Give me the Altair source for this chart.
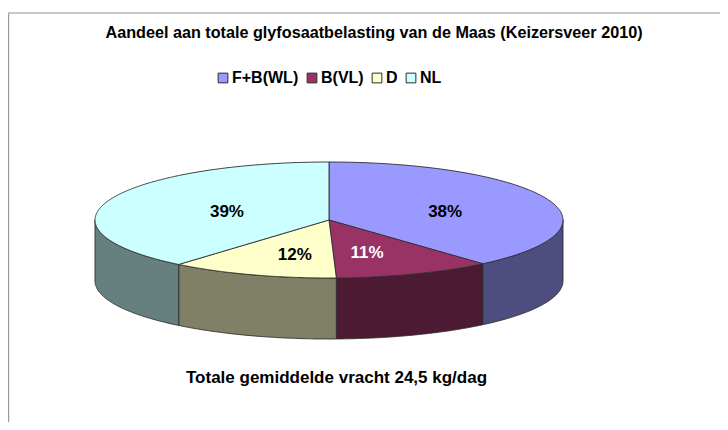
import numpy as np
import pandas as pd
import altair as alt

# --- values ---
categories = ["F+B(WL)", "B(VL)", "D", "NL"]
shares = [38.6, 10.9, 11.6, 38.9]
labels = ["38%", "11%", "12%", "39%"]
colors = ["#9999FF", "#993366", "#FFFFCC", "#CCFFFF"]
wall_colors = ["#4D4D80", "#4D1A33", "#808066", "#668080"]
label_colors = ["black", "white", "black", "black"]
label_rx = [0.53, 0.445, 0.446, 0.464]
label_ry = [0.44, 0.593, 0.62, 0.45]

# --- pie geometry (page pixels) ---
CX, CY, RX, RY, DEPTH = 329.0, 220.0, 234.0, 58.0, 61.0
PAGE_X0, PAGE_X1, PAGE_Y0, PAGE_Y1 = 8, 720, 48, 422
OUTLINE = "#2b2b2b"
FONT = "Liberation Sans"


def ex(t):
    return CX + RX * np.sin(t)


def ey(t):
    return CY - RY * np.cos(t)


def sweep(a0, a1, n=160):
    return np.radians(np.linspace(a0, a1, n))


def sector_table(a0, a1):
    t = sweep(a0, a1)
    px = np.round(np.r_[CX, ex(t), CX], 3)
    py = np.round(np.r_[CY, ey(t), CY], 3)
    rows = []
    for x in np.unique(px):
        ys = []
        for i in range(len(px) - 1):
            x0, x1, y0, y1 = px[i], px[i + 1], py[i], py[i + 1]
            if min(x0, x1) <= x <= max(x0, x1):
                if x0 == x1:
                    ys += [y0, y1]
                else:
                    ys.append(y0 + (y1 - y0) * (x - x0) / (x1 - x0))
        rows.append({"x": float(x), "top": min(ys), "bottom": max(ys)})
    return rows


x_scale = alt.Scale(domain=[PAGE_X0, PAGE_X1], range=[0, PAGE_X1 - PAGE_X0])
y_scale = alt.Scale(domain=[PAGE_Y0, PAGE_Y1], range=[0, PAGE_Y1 - PAGE_Y0])
X = alt.X("x:Q", scale=x_scale, axis=None)
Y = alt.Y("top:Q", scale=y_scale, axis=None)
Y2 = alt.Y2("bottom:Q")

edges = np.cumsum([0] + shares) / sum(shares) * 360.0
edges[-1] = 360.0

layers = []

# frame lines
layers.append(
    alt.Chart(pd.DataFrame({"x": [8.5], "top": [13.0], "bottom": [422.0]}))
    .mark_rule(color="#9a9a9a", strokeWidth=1.4)
    .encode(x=X, y=Y, y2=Y2)
)
layers.append(
    alt.Chart(pd.DataFrame({"x": [8.0], "x2": [720.0], "top": [13.0]}))
    .mark_rule(color="#b4b4b4", strokeWidth=1.4)
    .encode(x=X, x2="x2:Q", y=Y)
)

# side walls: the front half of the rim, pushed down by DEPTH
for i, cat in enumerate(categories):
    a0, a1 = max(edges[i], 90.0), min(edges[i + 1], 270.0)
    if a1 <= a0:
        continue
    t = sweep(a0, a1)
    wall = pd.DataFrame({"x": ex(t), "top": ey(t), "bottom": ey(t) + DEPTH})
    layers.append(
        alt.Chart(wall)
        .mark_area(fill=wall_colors[i], stroke=OUTLINE, strokeWidth=0.9)
        .encode(x=X, y=Y, y2=Y2)
    )

# top face
rows = []
for i, cat in enumerate(categories):
    for r in sector_table(edges[i], edges[i + 1]):
        rows.append({**r, "category": cat})
top = pd.DataFrame(rows)
layers.append(
    alt.Chart(top)
    .mark_area(stroke=OUTLINE, strokeWidth=0.9)
    .encode(
        x=X,
        y=Y,
        y2=Y2,
        color=alt.Color(
            "category:N",
            scale=alt.Scale(domain=categories, range=colors),
            sort=categories,
            legend=alt.Legend(
                title=None,
                orient="none",
                legendX=207,
                legendY=22,
                direction="horizontal",
                columns=4,
                symbolType="square",
                symbolSize=95,
                symbolStrokeColor=OUTLINE,
                symbolStrokeWidth=1,
                symbolOpacity=1,
                labelFont=FONT,
                labelFontSize=16,
                labelFontWeight="bold",
                labelColor="black",
                labelOffset=1,
                columnPadding=5,
                padding=0,
            ),
        ),
    )
)

# percentage labels
mid = np.radians((edges[:-1] + edges[1:]) / 2)
label_table = pd.DataFrame(
    {
        "x": CX + RX * np.array(label_rx) * np.sin(mid),
        "top": CY - RY * np.array(label_ry) * np.cos(mid),
        "text": labels,
        "tone": label_colors,
    }
)
layers.append(
    alt.Chart(label_table)
    .mark_text(font=FONT, fontSize=17, fontWeight="bold", baseline="middle", align="center", dy=1)
    .encode(x=X, y=Y, text="text:N", color=alt.value("black"))
    .transform_filter("datum.tone == 'black'")
)
layers.append(
    alt.Chart(label_table)
    .mark_text(font=FONT, fontSize=17, fontWeight="bold", baseline="middle", align="center", dy=1)
    .encode(x=X, y=Y, text="text:N", color=alt.value("white"))
    .transform_filter("datum.tone == 'white'")
)

# note under the pie
layers.append(
    alt.Chart(pd.DataFrame({"x": [336.5], "top": [377.5], "text": ["Totale gemiddelde vracht 24,5 kg/dag"]}))
    .mark_text(font=FONT, fontSize=17, fontWeight="bold", baseline="middle", align="center", color="black")
    .encode(x=X, y=Y, text="text:N")
)

chart = (
    alt.layer(*layers)
    .properties(
        width=PAGE_X1 - PAGE_X0,
        height=PAGE_Y1 - PAGE_Y0,
        padding={"left": 0, "top": 40, "right": 0, "bottom": 0},
        autosize=alt.AutoSizeParams(type="none"),
        title=alt.TitleParams(
            "Aandeel aan totale glyfosaatbelasting van de Maas (Keizersveer 2010)",
            font=FONT,
            fontSize=16.2,
            fontWeight="bold",
            color="black",
            anchor="middle",
            dx=10,
            offset=8,
            dy=37,
        ),
    )
    .configure_view(stroke=None)
)

chart.save("out.html", embed_options={"renderer": "svg", "actions": False})
